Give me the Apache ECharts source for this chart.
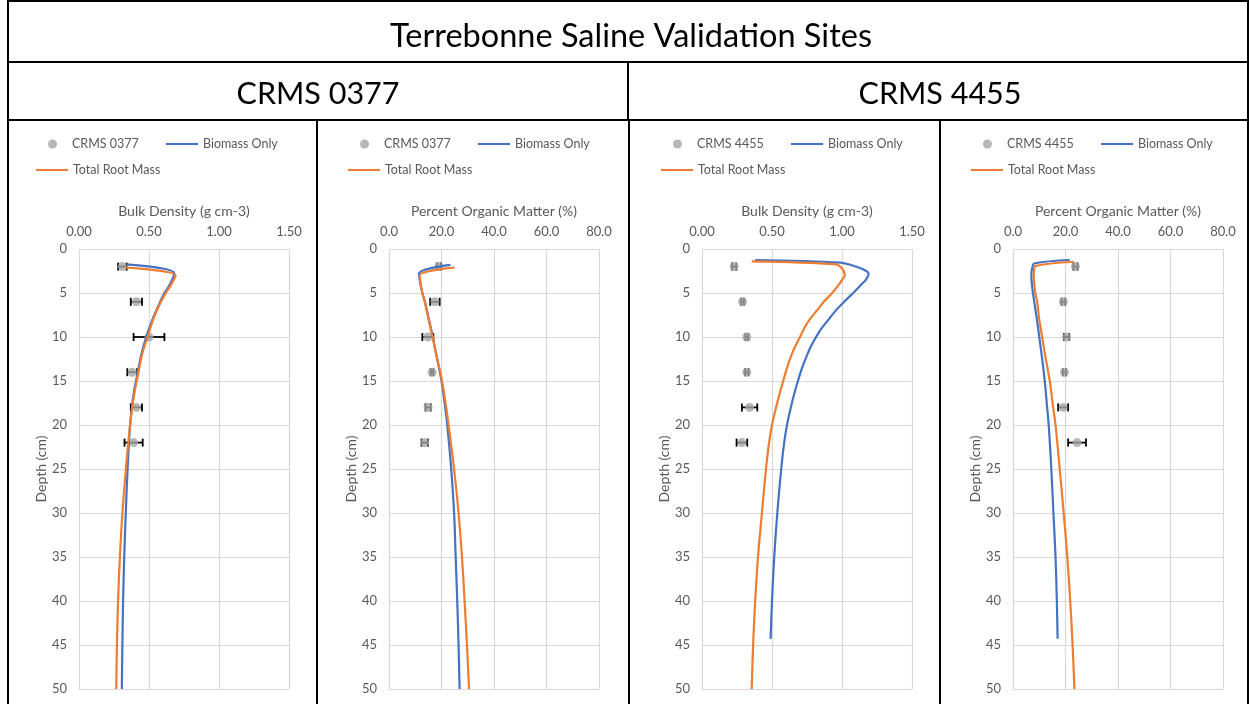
<!DOCTYPE html>
<html>
<head>
<meta charset="utf-8">
<script src="https://cdn.jsdelivr.net/npm/echarts@6/dist/echarts.min.js"></script>
<style>
  html, body { margin: 0; padding: 0; background: #fff; }
  #chart { width: 1251px; height: 704px; }
</style>
</head>
<body>
<div id="chart"></div>
<script>
// Core sampling depths (cm)
const obsDepth = [2, 6, 10, 14, 18, 22];

// CRMS 0377 measured bulk density (g cm-3) and standard error
const bd0377 = [0.31, 0.41, 0.50, 0.38, 0.41, 0.39];
const bd0377Err = [0.03, 0.04, 0.11, 0.035, 0.04, 0.065];
// CRMS 0377 measured organic matter (%) and standard error
const om0377 = [19.0, 17.5, 14.8, 16.4, 14.9, 13.6];
const om0377Err = [0.8, 1.8, 2.1, 0.5, 1.0, 1.2];
// CRMS 4455 measured bulk density (g cm-3) and standard error
const bd4455 = [0.23, 0.29, 0.32, 0.32, 0.34, 0.285];
const bd4455Err = [0.015, 0.01, 0.01, 0.012, 0.055, 0.038];
// CRMS 4455 measured organic matter (%) and standard error
const om4455 = [23.8, 19.2, 20.4, 19.6, 19.1, 24.4];
const om4455Err = [0.8, 0.7, 1.0, 0.6, 1.9, 3.4];

// Modelled profiles: CRMS 0377 bulk density
const bd0377BioDepth = [1.75, 2.75, 4, 5, 6, 8, 10, 12, 14, 16, 18, 20, 22, 25, 30, 35, 40, 45, 50];
const bd0377Bio = [0.34, 0.68, 0.65, 0.61, 0.58, 0.525, 0.48, 0.445, 0.42, 0.395, 0.378, 0.365, 0.357, 0.347, 0.334, 0.323, 0.315, 0.31, 0.306];
const bd0377RootDepth = [2.1, 3.0, 4, 5, 6, 8, 10, 12, 14, 16, 18, 20, 22, 25, 30, 35, 40, 45, 50];
const bd0377Root = [0.33, 0.69, 0.66, 0.62, 0.585, 0.53, 0.49, 0.45, 0.425, 0.40, 0.38, 0.365, 0.352, 0.335, 0.31, 0.292, 0.279, 0.271, 0.266];

// Modelled profiles: CRMS 0377 organic matter
const om0377BioDepth = [1.8, 2.8, 4, 5, 6, 8, 10, 12, 15, 18, 20, 25, 30, 35, 40, 45, 50];
const om0377Bio = [23.4, 11.4, 12.0, 12.7, 13.7, 15.2, 16.7, 18.0, 20.0, 21.4, 22.2, 23.7, 24.8, 25.4, 26.0, 26.5, 26.9];
const om0377RootDepth = [2.1, 3.0, 4, 5, 6, 8, 10, 12, 15, 18, 20, 25, 30, 35, 40, 45, 50];
const om0377Root = [25.0, 11.7, 12.1, 12.7, 13.6, 15.1, 16.6, 18.0, 20.2, 21.8, 22.7, 24.8, 26.5, 27.8, 28.8, 29.7, 30.5];

// Modelled profiles: CRMS 4455 bulk density
const bd4455BioDepth = [1.25, 1.55, 1.9, 2.3, 2.8, 3.5, 4, 5, 6, 7, 8, 9, 10, 11, 12, 13.5, 15, 17, 20, 22.5, 25, 30, 35, 40, 44.3];
const bd4455Bio = [0.38, 0.99, 1.08, 1.15, 1.19, 1.17, 1.14, 1.08, 1.015, 0.955, 0.905, 0.855, 0.815, 0.78, 0.752, 0.715, 0.685, 0.65, 0.607, 0.583, 0.566, 0.538, 0.516, 0.5, 0.49];
const bd4455RootDepth = [1.4, 1.75, 2.2, 2.6, 3.0, 3.5, 4, 5, 6, 7, 8, 9, 10, 11, 12, 13.5, 15, 17, 20, 22.5, 25, 30, 35, 40, 45, 50];
const bd4455Root = [0.355, 0.96, 1.0, 1.015, 1.02, 1.0, 0.98, 0.93, 0.87, 0.82, 0.77, 0.73, 0.70, 0.668, 0.64, 0.607, 0.58, 0.545, 0.50, 0.475, 0.457, 0.428, 0.40, 0.38, 0.365, 0.355];

// Modelled profiles: CRMS 4455 organic matter
const om4455BioDepth = [1.25, 1.65, 2.2, 3, 4, 5, 6, 8, 10, 12, 15, 18, 20, 25, 30, 35, 40, 44.3];
const om4455Bio = [21.6, 8.1, 7.3, 7.0, 7.2, 7.6, 8.1, 9.1, 10.0, 10.9, 12.1, 13.0, 13.6, 14.6, 15.4, 16.2, 16.7, 17.0];
const om4455RootDepth = [1.45, 1.95, 2.5, 3, 4, 5, 6, 8, 10, 12, 15, 18, 20, 25, 30, 35, 40, 45, 50];
const om4455Root = [23.2, 8.5, 8.0, 7.9, 8.1, 8.5, 9.2, 10.0, 11.1, 12.2, 14.0, 15.3, 16.2, 17.8, 19.3, 20.7, 21.8, 22.7, 23.4];

// Text
const mainTitle = 'Terrebonne Saline Validation Sites';
const siteNames = ['CRMS 0377', 'CRMS 4455'];
const bdTitle = 'Bulk Density (g cm-3)';
const omTitle = 'Percent Organic Matter (%)';
const depthTitle = 'Depth (cm)';
const bioName = 'Biomass Only';
const rootName = 'Total Root Mass';

const FONT = 'Lato, "Open Sans", sans-serif';
const GREY_TEXT = '#595959';
const BLUE = '#4472C4';
const ORANGE = '#ED7D31';
const MARKER = '#A5A5A5';

const pairs = (vals, depths) => vals.map((v, i) => [v, depths[i]]);

const panels = [
  { site: siteNames[0], xTitle: bdTitle, max: 1.5, step: 0.5, dec: 2,
    obs: bd0377, err: bd0377Err,
    bio: pairs(bd0377Bio, bd0377BioDepth), root: pairs(bd0377Root, bd0377RootDepth),
    gridLeft: 79, legendShift: 0 },
  { site: siteNames[0], xTitle: omTitle, max: 80, step: 20, dec: 1,
    obs: om0377, err: om0377Err,
    bio: pairs(om0377Bio, om0377BioDepth), root: pairs(om0377Root, om0377RootDepth),
    gridLeft: 389, legendShift: 312 },
  { site: siteNames[1], xTitle: bdTitle, max: 1.5, step: 0.5, dec: 2,
    obs: bd4455, err: bd4455Err,
    bio: pairs(bd4455Bio, bd4455BioDepth), root: pairs(bd4455Root, bd4455RootDepth),
    gridLeft: 702, legendShift: 625 },
  { site: siteNames[1], xTitle: omTitle, max: 80, step: 20, dec: 1,
    obs: om4455, err: om4455Err,
    bio: pairs(om4455Bio, om4455BioDepth), root: pairs(om4455Root, om4455RootDepth),
    gridLeft: 1013, legendShift: 935 }
];

const grid = [], xAxis = [], yAxis = [], series = [], legend = [];

// Horizontal standard-error bar with end caps
function errorBar(params, api) {
  const x = api.value(0), y = api.value(1), e = api.value(2);
  const a = api.coord([x - e, y]);
  const b = api.coord([x + e, y]);
  const cap = 4;
  const style = { stroke: '#000', lineWidth: 1.8 };
  return {
    type: 'group',
    children: [
      { type: 'line', shape: { x1: a[0], y1: a[1], x2: b[0], y2: b[1] }, style },
      { type: 'line', shape: { x1: a[0], y1: a[1] - cap, x2: a[0], y2: a[1] + cap }, style },
      { type: 'line', shape: { x1: b[0], y1: b[1] - cap, x2: b[0], y2: b[1] + cap }, style }
    ]
  };
}

const axisNameStyle = { fontFamily: FONT, fontSize: 14, color: GREY_TEXT };
const tickStyle = { fontFamily: FONT, fontSize: 13, color: GREY_TEXT };
const gridLine = { show: true, lineStyle: { color: '#D9D9D9', width: 1.2 } };

panels.forEach((p, i) => {
  grid.push({ left: p.gridLeft, top: 249, width: 210, height: 440 });
  xAxis.push({
    type: 'value', gridIndex: i, position: 'top', min: 0, max: p.max, interval: p.step,
    name: p.xTitle, nameLocation: 'middle', nameGap: 31, nameTextStyle: axisNameStyle,
    axisLine: { show: false }, axisTick: { show: false },
    axisLabel: Object.assign({ margin: 11, formatter: v => v.toFixed(p.dec) }, tickStyle),
    splitLine: gridLine
  });
  yAxis.push({
    type: 'value', gridIndex: i, inverse: true, min: 0, max: 50, interval: 5,
    name: depthTitle, nameLocation: 'middle', nameGap: 30, nameTextStyle: axisNameStyle,
    axisLine: { show: false }, axisTick: { show: false },
    axisLabel: Object.assign({ margin: 12 }, tickStyle),
    splitLine: gridLine
  });

  series.push({
    type: 'custom', name: p.site + ' SE', xAxisIndex: i, yAxisIndex: i, z: 3,
    renderItem: errorBar, silent: true,
    data: p.obs.map((v, k) => [v, obsDepth[k], p.err[k]])
  });
  series.push({
    type: 'scatter', name: p.site, xAxisIndex: i, yAxisIndex: i, z: 4,
    symbol: 'circle', symbolSize: 9, itemStyle: { color: MARKER },
    data: pairs(p.obs, obsDepth)
  });
  series.push({
    type: 'line', name: bioName, xAxisIndex: i, yAxisIndex: i, z: 5, smooth: 0.35,
    symbol: 'none', lineStyle: { color: BLUE, width: 2.2 }, itemStyle: { color: BLUE },
    data: p.bio
  });
  series.push({
    type: 'line', name: rootName, xAxisIndex: i, yAxisIndex: i, z: 5, smooth: 0.35,
    symbol: 'none', lineStyle: { color: ORANGE, width: 2.2 }, itemStyle: { color: ORANGE },
    data: p.root
  });

  const lt = { fontFamily: FONT, fontSize: 12.5, color: GREY_TEXT };
  const s = p.legendShift;
  const base = { padding: 0, selectedMode: false, textStyle: lt };
  legend.push(Object.assign({ left: 48 + s, top: 137.5, itemWidth: 29, itemHeight: 9,
                              data: [p.site] }, base));
  legend.push(Object.assign({ left: 166 + s, top: 137.5, itemWidth: 32, itemHeight: 2,
                              data: [{ name: bioName, icon: 'rect' }] }, base));
  legend.push(Object.assign({ left: 36 + s, top: 163.5, itemWidth: 32, itemHeight: 2,
                              data: [{ name: rootName, icon: 'rect' }] }, base));
});

// Table frame around the four panels
const frame = [
  [8, 1, 1248, 1], [8, 0, 8, 704], [1248, 0, 1248, 704],
  [8, 62, 1248, 62], [8, 120, 1248, 120],
  [628, 62, 628, 120],
  [317, 120, 317, 704], [629, 120, 629, 704], [940, 120, 940, 704]
].map(([x1, y1, x2, y2]) => ({
  type: 'line', shape: { x1, y1, x2, y2 }, style: { stroke: '#000', lineWidth: 2 }, z: 100
}));

const chart = echarts.init(document.getElementById('chart'));
chart.setOption({
  backgroundColor: '#fff',
  animation: false,
  title: [
    { text: mainTitle, left: 626, top: 32, textAlign: 'center', textVerticalAlign: 'middle',
      textStyle: { fontFamily: FONT, fontSize: 32.5, fontWeight: 'normal', color: '#000' } },
    { text: siteNames[0], left: 313, top: 89, textAlign: 'center', textVerticalAlign: 'middle',
      textStyle: { fontFamily: FONT, fontSize: 30.5, fontWeight: 'normal', color: '#000' } },
    { text: siteNames[1], left: 935, top: 89, textAlign: 'center', textVerticalAlign: 'middle',
      textStyle: { fontFamily: FONT, fontSize: 30.5, fontWeight: 'normal', color: '#000' } }
  ],
  legend,
  grid, xAxis, yAxis, series,
  graphic: frame
});
</script>
</body>
</html>
